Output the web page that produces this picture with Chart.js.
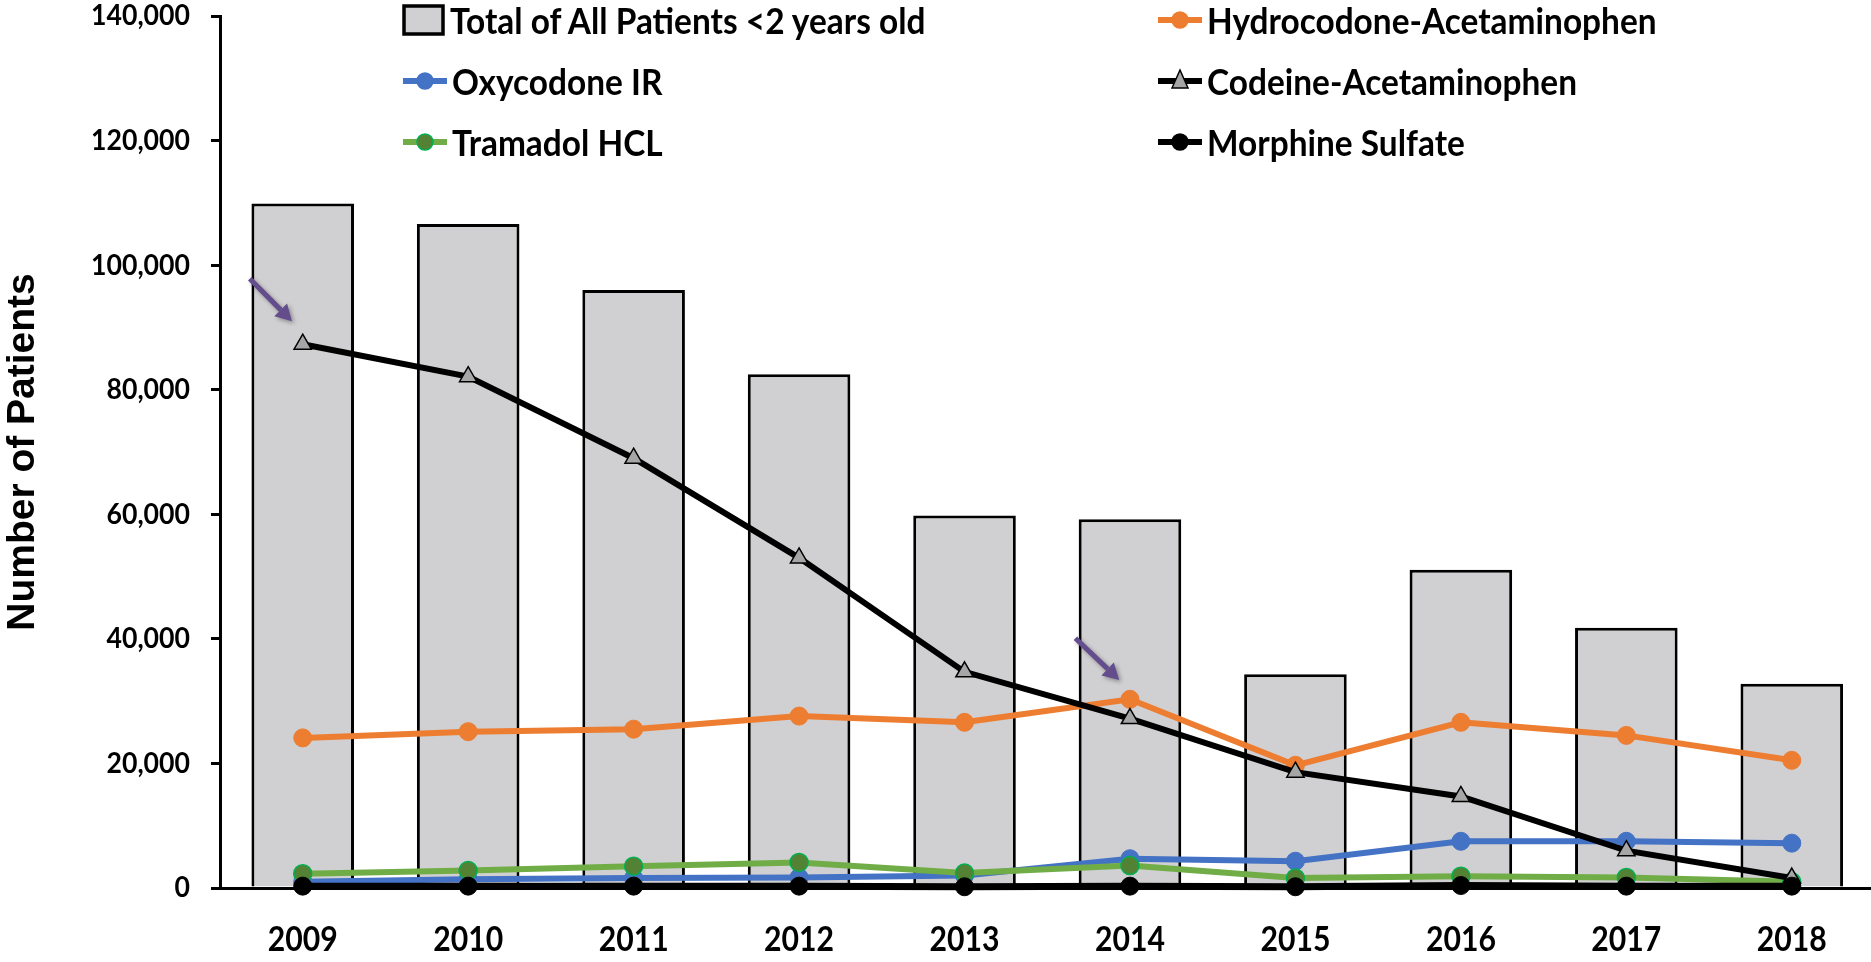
<!DOCTYPE html>
<html>
<head>
<meta charset="utf-8">
<script src="https://cdn.jsdelivr.net/npm/chart.js@4.4.0/dist/chart.umd.min.js"></script>
<style>
  html, body { margin: 0; padding: 0; background: #fff; overflow: hidden; }
  #wrap { position: relative; width: 1871px; height: 962px; overflow: hidden; }
  #legend { position: absolute; left: 0; top: 0; width: 100%; height: 0; }
  .item { position: absolute; display: flex; align-items: center; height: 40px;
          font: bold 36px Lato, "DejaVu Sans Condensed", sans-serif; color: #000; white-space: nowrap; }
  .item svg { margin-right: 4px; flex: none; }
  .item span { display: inline-block; transform-origin: left center; }
</style>
</head>
<body>
<div id="wrap">
  <canvas id="chart" width="1886" height="962"></canvas>
  <div id="legend"></div>
</div>
<script>
// Data
const years = ['2009', '2010', '2011', '2012', '2013', '2014', '2015', '2016', '2017', '2018'];
const totalPatients = [109900, 106600, 96000, 82500, 59800, 59200, 34300, 51100, 41800, 32800];
const hydrocodone = [24100, 25100, 25500, 27600, 26600, 30300, 19700, 26600, 24500, 20500];
const oxycodone = [1000, 1400, 1600, 1700, 2000, 4700, 4300, 7500, 7500, 7200];
const codeine = [87300, 82100, 69000, 53000, 34700, 27200, 18600, 14700, 6000, 1600];
const tramadol = [2300, 2800, 3500, 4100, 2400, 3600, 1600, 1900, 1700, 1000];
const morphine = [300, 300, 300, 300, 200, 300, 200, 400, 300, 300];
const yTicks = [0, 20000, 40000, 60000, 80000, 100000, 120000, 140000];

// arrow annotations: [category index, offset start, value start, offset end, value end]
const arrows = [
    [0, -0.32, 97800, -0.065, 91000],
    [5, -0.33, 40100, -0.065, 33400],
];

const FONT = 'Lato, "DejaVu Sans Condensed", sans-serif';

// the original face is narrower than anything installed: squeeze text to the widths it had
const measureCtx = document.createElement('canvas').getContext('2d');
function squeeze(font, sample, width) {
    measureCtx.font = font;
    return Math.min(1, width / measureCtx.measureText(sample).width);
}

const arrowPlugin = {
    id: 'arrows',
    afterDatasetsDraw(chart) {
        const { ctx, scales: { x, y } } = chart;
        ctx.save();
        ctx.strokeStyle = '#634d8c';
        ctx.fillStyle = '#634d8c';
        ctx.lineWidth = 5;
        ctx.shadowColor = 'rgba(0,0,0,0.35)';
        ctx.shadowBlur = 4;
        ctx.shadowOffsetX = 2;
        ctx.shadowOffsetY = 2;
        arrows.forEach(([i, o1, v1, o2, v2]) => {
            const x1 = x.getPixelForValue(i + o1), y1 = y.getPixelForValue(v1);
            const x2 = x.getPixelForValue(i + o2), y2 = y.getPixelForValue(v2);
            const ang = Math.atan2(y2 - y1, x2 - x1);
            const head = 16;
            const bx = x2 - head * Math.cos(ang), by = y2 - head * Math.sin(ang);
            ctx.beginPath();
            ctx.moveTo(x1, y1);
            ctx.lineTo(bx, by);
            ctx.stroke();
            ctx.beginPath();
            ctx.moveTo(x2, y2);
            ctx.lineTo(bx + 9 * Math.cos(ang + Math.PI / 2), by + 9 * Math.sin(ang + Math.PI / 2));
            ctx.lineTo(bx + 9 * Math.cos(ang - Math.PI / 2), by + 9 * Math.sin(ang - Math.PI / 2));
            ctx.closePath();
            ctx.fill();
        });
        ctx.restore();
    }
};

const Y_FONT = `bold 29px ${FONT}`;
const X_FONT = `bold 35px ${FONT}`;
const yScaleX = squeeze(Y_FONT, '140,000', 99);
const xScaleX = squeeze(X_FONT, '2009', 70);

const narrowTicks = {
    id: 'narrowTicks',
    afterDraw(chart) {
        const { ctx, scales: { x, y } } = chart;
        ctx.save();
        ctx.fillStyle = '#000';
        ctx.textBaseline = 'middle';
        ctx.font = Y_FONT;
        ctx.textAlign = 'right';
        y.ticks.forEach((t, i) => {
            ctx.save();
            ctx.translate(y.right - 30, y.getPixelForTick(i));
            ctx.scale(yScaleX, 1);
            ctx.fillText(t.value.toLocaleString('en-US'), 0, 0);
            ctx.restore();
        });
        ctx.font = X_FONT;
        ctx.textAlign = 'center';
        x.ticks.forEach((t, i) => {
            ctx.save();
            ctx.translate(x.getPixelForTick(i), x.top + 52);
            ctx.scale(xScaleX, 1);
            ctx.fillText(years[i], 0, 0);
            ctx.restore();
        });
        ctx.restore();
    }
};

function lineSet(label, data, color, opts = {}) {
    return Object.assign({
        type: 'line',
        label,
        data,
        borderColor: color,
        backgroundColor: color,
        borderWidth: 6,
        pointRadius: 9,
        pointBorderWidth: 1,
        pointBorderColor: color,
        pointBackgroundColor: color,
        tension: 0,
        clip: false,
    }, opts);
}

const ctx = document.getElementById('chart').getContext('2d');
new Chart(ctx, {
    data: {
        labels: years,
        datasets: [
            lineSet('Morphine Sulfate', morphine, '#000000', { order: 1, borderWidth: 7 }),
            lineSet('Codeine-Acetaminophen', codeine, '#000000', {
                order: 2, pointStyle: 'triangle', pointRadius: 10,
                pointBackgroundColor: '#a6a6a6', pointBorderColor: '#000000', pointBorderWidth: 1.5
            }),
            lineSet('Hydrocodone-Acetaminophen', hydrocodone, '#ed7d31', { order: 3 }),
            lineSet('Tramadol HCL', tramadol, '#70ad47', {
                order: 4, pointBackgroundColor: '#548235', pointBorderColor: '#00b050', pointBorderWidth: 1.5
            }),
            lineSet('Oxycodone IR', oxycodone, '#4472c4', { order: 5 }),
            {
                type: 'bar',
                label: 'Total of All Patients <2 years old',
                data: totalPatients,
                backgroundColor: '#d0cfd1',
                borderColor: '#000000',
                borderWidth: 3,
                borderSkipped: 'bottom',
                categoryPercentage: 1,
                barPercentage: 0.62,
                order: 10,
            },
        ]
    },
    options: {
        responsive: false,
        animation: false,
        layout: { padding: { top: 16, right: 0, left: 0, bottom: 0 } },
        plugins: {
            legend: { display: false },
            tooltip: { enabled: false },
        },
        scales: {
            x: {
                offset: true,
                afterFit: (axis) => { axis.height = 74; axis.paddingLeft = 0; axis.paddingRight = 0; },
                grid: { display: false, drawTicks: false },
                border: { display: true, color: '#000', width: 3 },
                ticks: { display: false },
            },
            y: {
                min: 0,
                max: 140000,
                afterBuildTicks: (axis) => { axis.ticks = yTicks.map(v => ({ value: v })); },
                afterFit: (axis) => { axis.width = 220; axis.paddingTop = 0; axis.paddingBottom = 0; },
                grid: { drawOnChartArea: false, drawTicks: true, tickLength: 9, color: '#000', lineWidth: 3 },
                border: { display: true, color: '#000', width: 3 },
                ticks: { display: false },
                title: {
                    display: true,
                    text: 'Number of Patients',
                    color: '#000',
                    font: { family: '"Liberation Sans", Arial, sans-serif', size: 39, weight: 'bold' },
                    padding: { top: 0, bottom: 0 },
                },
            }
        }
    },
    plugins: [arrowPlugin, narrowTicks]
});

// Legend (two columns, placed inside the plot like the original)
const legendItems = [
    { label: 'Total of All Patients <2 years old', kind: 'box', left: 402, top: 0 },
    { label: 'Oxycodone IR', kind: 'circle', line: '#4472c4', fill: '#4472c4', stroke: '#4472c4', left: 402, top: 61 },
    { label: 'Tramadol HCL', kind: 'circle', line: '#70ad47', fill: '#548235', stroke: '#00b050', left: 402, top: 122 },
    { label: 'Hydrocodone-Acetaminophen', kind: 'circle', line: '#ed7d31', fill: '#ed7d31', stroke: '#ed7d31', left: 1157, top: 0 },
    { label: 'Codeine-Acetaminophen', kind: 'tri', line: '#000', fill: '#a6a6a6', stroke: '#000', left: 1157, top: 61 },
    { label: 'Morphine Sulfate', kind: 'circle', line: '#000', fill: '#000', stroke: '#000', left: 1157, top: 122 },
];
const legendScaleX = squeeze(`bold 36px ${FONT}`, legendItems[0].label, 478);
const legendEl = document.getElementById('legend');
legendItems.forEach(it => {
    let marker;
    if (it.kind === 'box') {
        marker = '<svg width="44" height="34"><rect x="2" y="3" width="39" height="28" fill="#d0cfd1" stroke="#000" stroke-width="3.5"/></svg>';
    } else if (it.kind === 'tri') {
        marker = `<svg width="46" height="34"><line x1="1" y1="17" x2="45" y2="17" stroke="${it.line}" stroke-width="6"/>` +
                 `<polygon points="23,6 31,24 15,24" fill="${it.fill}" stroke="${it.stroke}" stroke-width="1.5"/></svg>`;
    } else {
        marker = `<svg width="46" height="34"><line x1="1" y1="17" x2="45" y2="17" stroke="${it.line}" stroke-width="6"/>` +
                 `<circle cx="23" cy="17" r="8" fill="${it.fill}" stroke="${it.stroke}" stroke-width="1.5"/></svg>`;
    }
    const div = document.createElement('div');
    div.className = 'item';
    div.style.left = it.left + 'px';
    div.style.top = it.top + 'px';
    div.innerHTML = marker + '<span></span>';
    const span = div.querySelector('span');
    span.textContent = it.label;
    span.style.transform = `scaleX(${legendScaleX})`;
    legendEl.appendChild(div);
});
</script>
</body>
</html>
